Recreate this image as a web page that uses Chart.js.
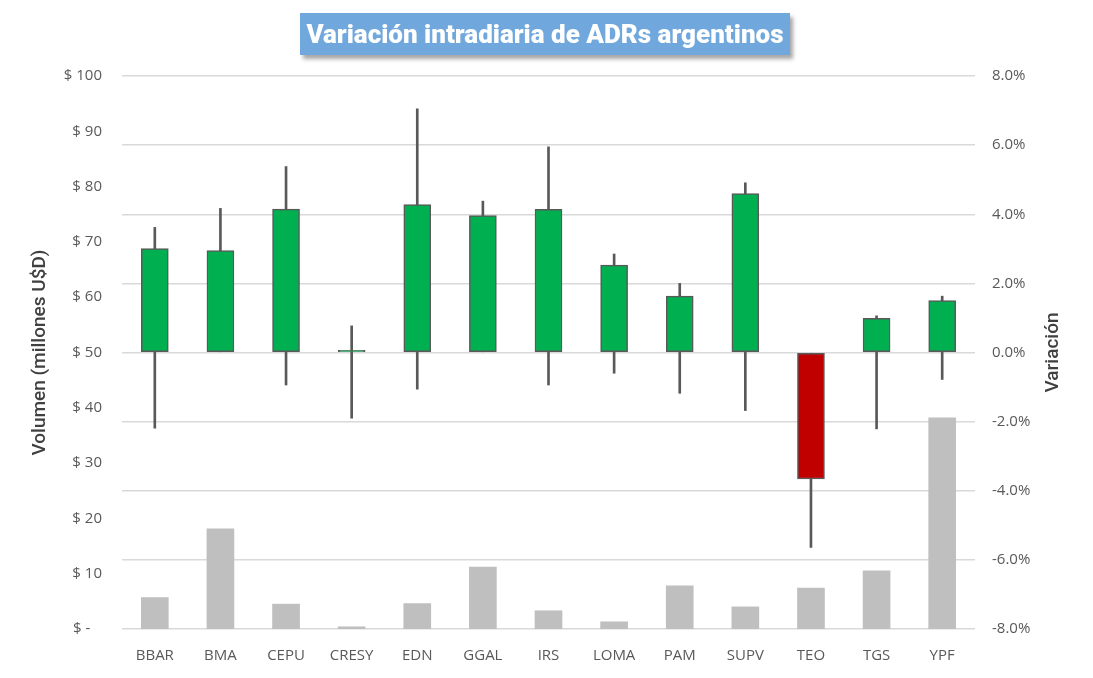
<!DOCTYPE html>
<html>
<head>
<meta charset="utf-8">
<script src="https://cdn.jsdelivr.net/npm/chart.js@4.4.1/dist/chart.umd.min.js"></script>
<style>
    body { margin: 0; background: #fff; }
    #wrap { position: relative; width: 1093px; height: 678px; }
    #title {
        position: absolute; left: 300px; top: 13px; width: 490px; height: 42px;
        background: #70a8dd; color: #fff; font: 900 26px Roboto, sans-serif;
        display: flex; align-items: center; justify-content: center;
        box-shadow: 3px 4px 4px rgba(0, 0, 0, 0.35);
    }
</style>
</head>
<body>
<div id="wrap">
    <canvas id="adrChart" width="1093" height="678"></canvas>
    <div id="title">Variación intradiaria de ADRs argentinos</div>
</div>
<script>
const tickers = ['BBAR', 'BMA', 'CEPU', 'CRESY', 'EDN', 'GGAL', 'IRS', 'LOMA', 'PAM', 'SUPV', 'TEO', 'TGS', 'YPF'];
// volumen en millones de U$D
const volumes = [5.7, 18.1, 4.5, 0.4, 4.6, 11.2, 3.3, 1.3, 7.8, 4.0, 7.4, 10.5, 38.2];
// variacion intradiaria en %
const opens = [0, 0, 0, 0, 0, 0, 0, 0, 0, 0, 0, 0, 0];
const closes = [3.01, 2.95, 4.15, 0.06, 4.28, 3.96, 4.14, 2.53, 1.63, 4.60, -3.66, 0.99, 1.50];
const highs = [3.62, 4.17, 5.38, 0.77, 7.05, 4.38, 5.95, 2.85, 2.00, 4.91, 0, 1.06, 1.63];
const lows = [-2.19, 0, -0.94, -1.90, -1.06, 0, -0.94, -0.60, -1.18, -1.68, -5.64, -2.21, -0.78];

const bodies = tickers.map((t, i) => [opens[i], closes[i]]);
const wicks = tickers.map((t, i) => [lows[i], highs[i]]);
const bodyColors = tickers.map((t, i) => closes[i] >= opens[i] ? '#00b050' : '#c00000');

const tickFont = { family: 'Open Sans', size: 15 };
const tickColor = '#595959';

// titulos de ejes, ambos leidos de abajo hacia arriba
const axisTitles = {
    id: 'axisTitles',
    afterDraw(chart) {
        const c = chart.ctx;
        const mid = (chart.chartArea.top + chart.chartArea.bottom) / 2;
        c.save();
        c.fillStyle = '#404040';
        c.font = '500 19px Roboto';
        c.textAlign = 'center';
        c.textBaseline = 'middle';
        [[40, 'Volumen (millones U$D)'], [1053, 'Variación']].forEach(([x, text]) => {
            c.save();
            c.translate(x, mid);
            c.rotate(-Math.PI / 2);
            c.fillText(text, 0, 0);
            c.restore();
        });
        c.restore();
    }
};

const ctx = document.getElementById('adrChart').getContext('2d');
new Chart(ctx, {
    type: 'bar',
    data: {
        labels: tickers,
        datasets: [
            {
                label: 'Volumen',
                data: volumes,
                yAxisID: 'y',
                backgroundColor: '#bfbfbf',
                barThickness: 27,
                grouped: false,
                order: 3
            },
            {
                label: 'Rango',
                data: wicks,
                yAxisID: 'y1',
                backgroundColor: '#595959',
                barThickness: 2,
                grouped: false,
                order: 2
            },
            {
                label: 'Variación',
                data: bodies,
                yAxisID: 'y1',
                backgroundColor: bodyColors,
                borderColor: '#595959',
                borderWidth: 1.5,
                borderSkipped: false,
                barThickness: 27,
                grouped: false,
                order: 1
            }
        ]
    },
    options: {
        responsive: false,
        animation: false,
        layout: { padding: { top: 76, left: 0, right: 0, bottom: 0 } },
        plugins: {
            legend: { display: false },
            tooltip: { enabled: false }
        },
        scales: {
            x: {
                grid: { display: false },
                border: { display: false },
                ticks: { color: tickColor, font: tickFont, padding: 10 },
                afterFit: scale => { scale.height = 49; }
            },
            y: {
                position: 'left',
                min: 0,
                max: 100,
                grid: { display: false, drawTicks: false },
                border: { display: false },
                ticks: {
                    stepSize: 10,
                    color: tickColor,
                    font: tickFont,
                    padding: 20,
                    callback: v => v === 0 ? '$ -   ' : '$ ' + v
                },
                afterFit: scale => { scale.width = 122; }
            },
            y1: {
                position: 'right',
                min: -8,
                max: 8,
                grid: { color: '#d9d9d9', lineWidth: 1.5, drawTicks: false },
                border: { display: false },
                ticks: {
                    stepSize: 2,
                    color: tickColor,
                    font: tickFont,
                    padding: 17,
                    callback: v => v.toFixed(1) + '%'
                },
                afterFit: scale => { scale.width = 118; }
            }
        }
    },
    plugins: [axisTitles]
});
</script>
</body>
</html>
